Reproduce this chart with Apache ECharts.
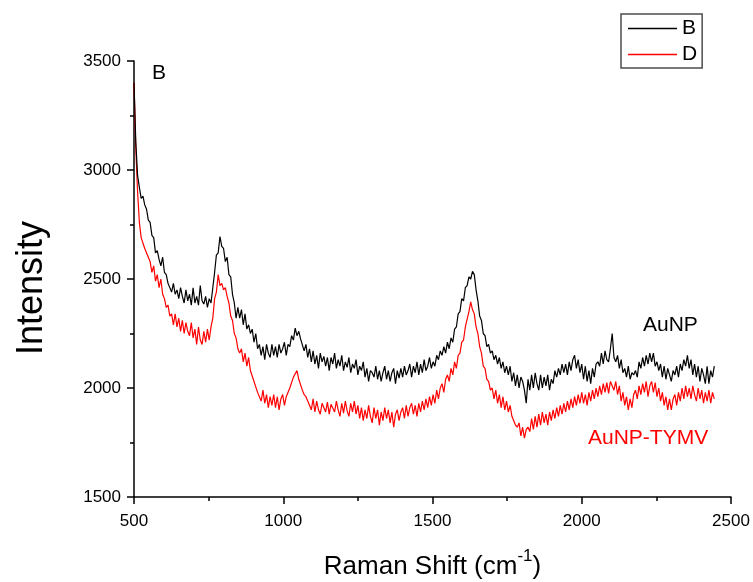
<!DOCTYPE html>
<html>
<head>
<meta charset="utf-8">
<script src="https://cdn.jsdelivr.net/npm/echarts@6/dist/echarts.min.js"></script>
<style>
  html, body { margin: 0; padding: 0; background: #fff; }
  #chart { width: 753px; height: 582px; }
</style>
</head>
<body>
<div id="chart"></div>
<script>
// Raman shift sampling grid (cm^-1)
const xStart = 500;
const xStep = 6;

// Spectrum B: AuNP
const intensityB = [
  3400, 3130, 2975, 2920, 2870, 2880, 2840, 2820, 2770, 2760,
  2700, 2690, 2620, 2630, 2590, 2560, 2600, 2530, 2520, 2480,
  2480, 2440, 2480, 2430, 2450, 2410, 2460, 2420, 2390, 2450,
  2400, 2430, 2380, 2460, 2390, 2420, 2380, 2470, 2400, 2385,
  2420, 2370, 2410, 2390, 2460, 2530, 2610, 2620, 2695, 2650,
  2640, 2580, 2600, 2520, 2510, 2430, 2390, 2320, 2370, 2320,
  2360, 2290, 2340, 2270, 2290, 2250, 2270, 2210, 2250, 2180,
  2200, 2150, 2190, 2130, 2200, 2160, 2140, 2200, 2150, 2190,
  2140, 2200, 2160, 2180, 2210, 2150, 2200, 2190, 2240, 2220,
  2275, 2240, 2260, 2225, 2230, 2170, 2200, 2140, 2180, 2120,
  2170, 2110, 2150, 2090, 2160, 2120, 2145, 2100, 2140, 2080,
  2140, 2110, 2160, 2090, 2130, 2100, 2150, 2080, 2120, 2095,
  2140, 2070, 2110, 2090, 2130, 2060, 2100, 2080, 2120, 2050,
  2090, 2030, 2080, 2070, 2050, 2100, 2040, 2080, 2030, 2070,
  2100, 2040, 2080, 2030, 2070, 2090, 2020, 2080, 2045, 2090,
  2050, 2100, 2060, 2080, 2110, 2050, 2100, 2070, 2120, 2060,
  2110, 2070, 2130, 2080, 2100, 2140, 2090, 2120, 2100, 2150,
  2130, 2170, 2150, 2190, 2160, 2210, 2180, 2230, 2210, 2270,
  2280, 2340, 2350, 2410, 2400, 2460, 2470, 2510, 2500, 2535,
  2520, 2450, 2400, 2330, 2310, 2250, 2240, 2190, 2200, 2160,
  2170, 2130, 2150, 2110, 2140, 2090, 2120, 2070, 2100, 2060,
  2100, 2030, 2070, 2010, 2060, 2000, 2050, 2030, 1990, 1930,
  2040, 1990, 2060, 2000, 2070, 2020, 1990, 2060, 2000, 2050,
  2010, 2060, 1990, 2040, 2020, 2080, 2050, 2090, 2060, 2110,
  2070, 2110, 2060, 2120, 2080, 2130, 2150, 2090, 2130, 2070,
  2110, 2040, 2100, 2030, 2080, 2020, 2090, 2050, 2110, 2120,
  2100, 2160, 2110, 2170, 2130, 2120, 2180, 2250, 2140, 2120,
  2150, 2090, 2130, 2070, 2090, 2050, 2100, 2040, 2070, 2060,
  2080, 2050, 2120, 2090, 2140, 2100, 2150, 2110, 2160, 2120,
  2160, 2100, 2120, 2080, 2110, 2050, 2100, 2040, 2090, 2060,
  2030, 2080, 2060, 2100, 2050, 2110, 2080, 2130, 2100, 2150,
  2090, 2130, 2060, 2110, 2050, 2100, 2030, 2090, 2060, 2020,
  2100, 2020, 2080, 2050, 2100
];

// Spectrum D: AuNP-TYMV
const intensityD = [
  3400, 3100, 2900, 2760, 2690, 2690, 2640, 2640, 2600, 2580,
  2530, 2560, 2490, 2520, 2460, 2500, 2430, 2410, 2370, 2380,
  2330, 2340, 2290, 2340, 2280, 2320, 2260, 2310, 2250, 2300,
  2260, 2240, 2300, 2230, 2270, 2200, 2280, 2220, 2200, 2260,
  2210, 2270, 2220, 2280, 2320, 2410, 2440, 2520, 2470, 2480,
  2450, 2460, 2420, 2390, 2330, 2310, 2250, 2230, 2180, 2160,
  2180, 2120, 2160, 2100, 2140, 2080, 2080, 2030, 2030, 1980,
  1980, 1940, 1990, 1930, 1970, 1910, 1960, 1920, 1970, 1910,
  1960, 1900, 1950, 1970, 1920, 1960, 1960, 2000, 2000, 2050,
  2050, 2080, 2040, 2040, 1990, 1970, 1960, 1940, 1940, 1900,
  1950, 1890, 1940, 1900, 1880, 1930, 1930, 1890, 1935, 1880,
  1925, 1930, 1890, 1940, 1900, 1870, 1930, 1885, 1940, 1895,
  1870, 1930, 1890, 1940, 1880, 1920, 1860, 1910, 1850, 1900,
  1860, 1920, 1870, 1840, 1910, 1860, 1900, 1830, 1890, 1850,
  1910, 1860, 1900, 1840, 1890, 1820, 1880, 1900, 1850, 1890,
  1910, 1860, 1920, 1870, 1910, 1930, 1880, 1920, 1870, 1930,
  1890, 1940, 1900, 1950, 1910, 1960, 1920, 1970, 1930, 1990,
  1950, 2000, 2020, 1980, 2040, 2060, 2030, 2090, 2060, 2120,
  2090, 2150, 2160, 2210, 2220, 2280, 2280, 2350, 2395, 2360,
  2340, 2280, 2250, 2190, 2160, 2100, 2090, 2040, 2030, 1990,
  2000, 1950, 1990, 1930, 1970, 1910, 1960, 1900, 1940, 1890,
  1920, 1870, 1870, 1830, 1820, 1840, 1780, 1820, 1770, 1810,
  1820, 1800, 1860, 1810, 1870, 1820, 1880, 1830, 1890, 1840,
  1880, 1830, 1890, 1850, 1900, 1860, 1910, 1870, 1920, 1880,
  1930, 1890, 1940, 1900, 1950, 1910, 1960, 1920, 1970, 1930,
  1980, 1930, 1970, 1920, 1980, 1940, 1990, 1950, 2000, 1960,
  2010, 1970, 2020, 1980, 2025, 1975, 2030, 2035, 1990, 2030,
  1970, 2010, 1940, 1980, 1920, 1960, 1900, 1950, 1910, 1970,
  1990, 1950, 2010, 1970, 2020, 1980, 2030, 1960, 2010, 2030,
  1980, 2025, 1960, 2000, 1940, 1980, 1920, 1960, 1900, 1950,
  1900, 1950, 1970, 1920, 1980, 1940, 2000, 1950, 2010, 1960,
  2000, 1950, 2010, 1970, 1940, 2000, 1950, 1990, 1930, 1980,
  1940, 1990, 1930, 1980, 1950
];

const seriesNames = ['B', 'D'];
const seriesColors = ['#000000', '#ff0000'];
const curveLabels = ['AuNP', 'AuNP-TYMV'];

const toPoints = arr => arr.map((v, i) => [xStart + i * xStep, v]);

const FONT = "'Liberation Sans', Arial, sans-serif";

const chart = echarts.init(document.getElementById('chart'), null, { renderer: 'canvas' });

const axisCommon = {
  axisLine: { show: true, onZero: false, lineStyle: { color: '#000', width: 1.5 } },
  axisTick: { show: true, inside: false, length: 7, lineStyle: { color: '#000', width: 1.5 } },
  minorTick: { show: true, splitNumber: 2, length: 4, lineStyle: { color: '#000', width: 1.5 } },
  splitLine: { show: false },
  minorSplitLine: { show: false },
  axisLabel: { color: '#000', fontFamily: FONT, fontSize: 17, formatter: v => String(v) }
};

chart.setOption({
  animation: false,
  backgroundColor: '#fff',
  grid: { left: 134, right: 22, top: 61, bottom: 85, containLabel: false, outerBoundsMode: 'none' },
  xAxis: Object.assign({}, axisCommon, {
    type: 'value',
    min: 500, max: 2500, interval: 500,
    axisLabel: Object.assign({}, axisCommon.axisLabel, { margin: 16 }),
    name: '{a|Raman Shift (cm}{b|-1}{a|)}',
    nameLocation: 'middle',
    nameGap: 51,
    nameTextStyle: {
      rich: {
        a: { fontFamily: FONT, fontSize: 26, color: '#000', lineHeight: 32, verticalAlign: 'bottom' },
        b: { fontFamily: FONT, fontSize: 17, color: '#000', lineHeight: 17, verticalAlign: 'top' }
      }
    }
  }),
  yAxis: Object.assign({}, axisCommon, {
    type: 'value',
    min: 1500, max: 3500, interval: 500,
    axisLabel: Object.assign({}, axisCommon.axisLabel, { margin: 13 }),
    name: 'Intensity',
    nameLocation: 'middle',
    nameGap: 84,
    nameRotate: 90,
    nameTextStyle: { fontFamily: FONT, fontSize: 36, color: '#000', padding: [0, 18, 0, 0] }
  }),
  legend: {
    show: true,
    data: seriesNames.map(n => ({ name: n, icon: 'rect' })),
    orient: 'vertical',
    left: 621,
    top: 14,
    padding: [4, 5, 3, 7],
    itemWidth: 49,
    itemHeight: 1.5,
    itemGap: 5,
    borderColor: '#4d4d4d',
    borderWidth: 1.5,
    borderRadius: 0,
    textStyle: { fontFamily: FONT, fontSize: 21, color: '#000', lineHeight: 20 }
  },
  series: seriesNames.map((name, k) => ({
    name: name,
    type: 'line',
    data: toPoints(k === 0 ? intensityB : intensityD),
    showSymbol: false,
    symbol: 'none',
    lineStyle: { color: seriesColors[k], width: 1.2 },
    itemStyle: { color: seriesColors[k] },
    z: k === 0 ? 3 : 2
  })),
  graphic: [
    { type: 'text', left: 152, top: 63, style: { text: 'B', fontFamily: FONT, fontSize: 21, fill: '#000' } },
    { type: 'text', left: 643, top: 315, style: { text: curveLabels[0], fontFamily: FONT, fontSize: 21, fill: '#000' } },
    { type: 'text', left: 588, top: 428, style: { text: curveLabels[1], fontFamily: FONT, fontSize: 21, fill: '#ff0000' } }
  ]
});
</script>
</body>
</html>
